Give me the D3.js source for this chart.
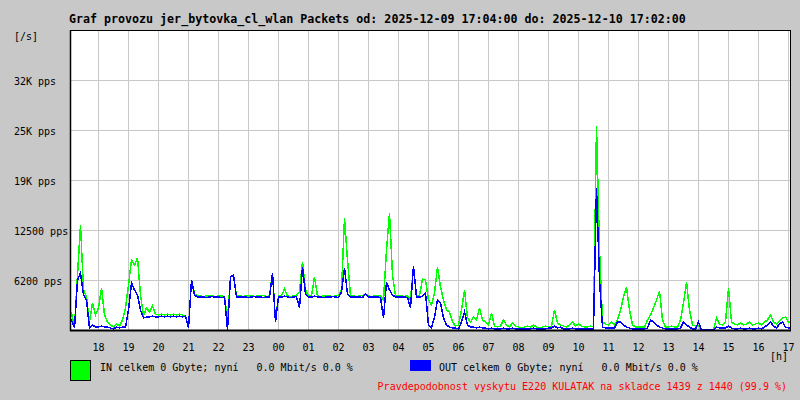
<!DOCTYPE html>
<html>
<head>
<meta charset="utf-8">
<title>Graf provozu jer_bytovka_cl_wlan</title>
<script src="https://d3js.org/d3.v7.min.js"></script>
<style>
  body { margin: 0; background: #c8c8c8; }
  svg { display: block; font-family: "DejaVu Sans Mono", "Liberation Mono", monospace; }
  text { font-size: 10px; fill: #000; white-space: pre; }
  .title { font-size: 11.65px; font-weight: bold; }
  .grid line { stroke: #c8c8c8; shape-rendering: crispEdges; }
  .grid .domain { display: none; }
  .series { fill: none; stroke-width: 1.5; shape-rendering: crispEdges; stroke-linejoin: miter; }
</style>
</head>
<body>
<script>
// one sample every 6 minutes, starting 2025-12-09 17:04 (packets per second)
var startTime = Date.UTC(2025, 11, 9, 17, 4);
var stepMinutes = 6;

var inPackets = [
  2125,375,6875,13125,5000,4125,1000,3375,1875,2750,
  5250,1875,1000,625,375,750,500,1250,2750,5625,
  8750,8125,9000,4375,1750,2750,2250,3000,2000,1875,
  2000,1875,2000,1875,2000,1875,2000,1875,1750,250,
  6250,4500,4300,4250,4200,4250,4300,4250,4200,4250,
  4250,4200,1250,6625,6875,4250,4300,4200,4250,4250,
  4300,4200,4250,4250,4300,4200,4250,7125,1250,4250,
  4300,5125,4250,4200,4250,4300,4750,8500,5000,4250,
  4300,6625,4250,4200,4250,4300,4250,4200,4250,4300,
  5000,14000,8750,4300,4250,4200,4250,4300,4500,4250,
  4200,4250,4300,4250,3750,10000,14625,6875,4300,4250,
  4250,4200,4300,3750,8000,4250,4300,6375,6250,3750,
  3125,4625,7875,5375,3750,2500,2250,1000,500,625,
  2500,5000,1500,1000,1625,1250,2750,1250,1000,625,
  2125,500,375,500,1250,625,375,875,500,375,
  250,375,500,375,625,375,250,375,500,375,
  500,2500,875,625,500,375,625,1000,500,750,
  500,375,375,500,375,25500,10000,1000,750,625,
  1000,625,1250,2500,4125,5375,2500,625,375,375,
  375,375,1250,1875,2750,3750,4875,1250,375,375,
  500,375,375,1250,3375,6000,2500,625,500,500,
  0,0,0,0,0,1500,750,625,1000,5250,
  1000,750,625,875,625,750,1000,625,750,875,
  625,1000,1250,1875,1000,750,1125,1500,1625,1000
];

var outPackets = [
  1250,250,6250,7125,4375,3750,250,625,375,375,
  500,375,375,250,125,375,250,375,375,2500,
  5875,5000,4375,2500,1500,1625,1625,1750,1625,1625,
  1750,1625,1750,1625,1750,1625,1750,1625,1750,250,
  6250,4375,4125,4100,4150,4050,4125,4175,4100,4125,
  4050,4125,0,6625,6875,4125,4100,4150,4125,4050,
  4125,4175,4100,4125,4050,4125,4150,7125,1000,4125,
  4100,4250,4125,4050,4125,4175,2750,7875,4500,4125,
  4100,4250,4125,4150,4050,4125,4100,4175,4125,4050,
  4750,7750,4500,4125,4100,4150,4125,4050,4500,4125,
  4100,4150,4125,4050,1500,6000,5000,4375,4125,4100,
  4150,4125,4050,2750,8000,4125,4100,4250,4625,625,
  250,1625,3750,3375,1500,625,375,250,250,125,
  1000,2250,625,375,375,250,375,250,250,125,
  250,125,125,125,250,125,125,250,125,125,
  125,125,125,125,250,125,125,125,125,250,
  250,500,250,375,125,125,125,250,125,125,
  125,125,125,125,125,17750,6250,375,250,250,
  250,250,1000,1000,625,375,250,125,125,125,
  125,125,250,1250,1000,625,375,250,125,125,
  125,125,125,250,1000,625,375,125,125,1000,
  0,0,0,0,0,375,250,250,250,500,
  250,125,125,250,125,125,250,125,125,250,
  125,375,625,1000,500,250,750,1000,375,250
];

var yTicks = [6250, 12500, 18750, 25000, 31250];
var yTickLabels = ["6200 pps", "12500 pps", "19K pps", "25K pps", "32K pps"];
var hourLabels = ["18","19","20","21","22","23","00","01","02","03","04","05",
                  "06","07","08","09","10","11","12","13","14","15","16","17"];

var titleText = "Graf provozu jer_bytovka_cl_wlan Packets od: 2025-12-09 17:04:00 do: 2025-12-10 17:02:00";
var inLegend = "IN celkem 0 Gbyte; nyní   0.0 Mbit/s 0.0 %";
var outLegend = "OUT celkem 0 Gbyte; nyní   0.0 Mbit/s 0.0 %";
var noteText = "Pravdepodobnost vyskytu E220 KULATAK na skladce 1439 z 1440 (99.9 %)";

var width = 800, height = 400;
var plotLeft = 70, plotRight = 790, plotTop = 30, plotBottom = 330;
var stepMs = stepMinutes * 60 * 1000;
var endTime = startTime + 24 * 3600 * 1000;

var svg = d3.select("body").append("svg")
    .attr("width", width)
    .attr("height", height);

svg.append("rect")
    .attr("width", width)
    .attr("height", height)
    .attr("fill", "#c8c8c8");

var x = d3.scaleUtc().domain([startTime, endTime]).range([plotLeft, plotRight]);
var y = d3.scaleLinear().domain([0, 37500]).range([plotBottom, plotTop]);

svg.append("rect")
    .attr("x", plotLeft).attr("y", plotTop)
    .attr("width", plotRight - plotLeft).attr("height", plotBottom - plotTop)
    .attr("fill", "#fff");

var hourTicks = d3.utcHour.range(new Date(startTime), new Date(endTime));

// grid
svg.append("g")
    .attr("class", "grid")
    .attr("transform", "translate(0," + plotBottom + ")")
    .call(d3.axisBottom(x).tickValues(hourTicks).tickSize(-(plotBottom - plotTop)).tickFormat(""));

svg.append("g")
    .attr("class", "grid")
    .attr("transform", "translate(" + plotLeft + ",0)")
    .call(d3.axisLeft(y).tickValues(yTicks).tickSize(-(plotRight - plotLeft)).tickFormat(""));

// sample i is centred in its 6-minute slot
function points(vals) {
    var pts = [[startTime, vals[0]]];
    vals.forEach(function(v, i) { pts.push([startTime + (i + 0.5) * stepMs, v]); });
    pts.push([endTime, vals[vals.length - 1]]);
    return pts;
}

var line = d3.line()
    .x(function(d) { return x(d[0]); })
    .y(function(d) { return y(d[1]); });

svg.append("path")
    .attr("class", "series")
    .attr("stroke", "#00ff00")
    .attr("d", line(points(inPackets)));

svg.append("path")
    .attr("class", "series")
    .attr("stroke", "#0000ff")
    .attr("d", line(points(outPackets)));

// frame
svg.append("rect")
    .attr("x", plotLeft + 0.5).attr("y", plotTop + 0.5)
    .attr("width", plotRight - plotLeft).attr("height", plotBottom - plotTop)
    .attr("fill", "none").attr("stroke", "#000");
svg.append("line")
    .attr("x1", plotLeft).attr("x2", plotRight + 1)
    .attr("y1", plotBottom + 0.5).attr("y2", plotBottom + 0.5)
    .attr("stroke", "#000").attr("stroke-width", 2);
svg.append("line")
    .attr("x1", plotLeft + 0.5).attr("x2", plotLeft + 0.5)
    .attr("y1", plotTop).attr("y2", plotBottom + 1)
    .attr("stroke", "#000").attr("stroke-width", 1.5);

// y labels
svg.append("g").selectAll("text")
    .data(yTicks)
    .enter().append("text")
    .attr("x", 14)
    .attr("y", function(d) { return y(d) + 4.5; })
    .text(function(d, i) { return yTickLabels[i]; });

svg.append("text").attr("x", 14).attr("y", 40).text("[/s]");

// x labels
svg.append("g").selectAll("text")
    .data(hourTicks)
    .enter().append("text")
    .attr("x", function(d) { return x(d) + 0.5; })
    .attr("y", 351)
    .attr("text-anchor", "middle")
    .text(function(d, i) { return hourLabels[i]; });

svg.append("text").attr("x", 788).attr("y", 360).attr("text-anchor", "end").text("[h]");

// title
svg.append("text")
    .attr("class", "title")
    .attr("x", 69).attr("y", 22.5)
    .text(titleText);

// legend
svg.append("rect")
    .attr("x", 70.5).attr("y", 360.5)
    .attr("width", 20).attr("height", 20)
    .attr("fill", "#00ff00").attr("stroke", "#000");
svg.append("text").attr("x", 100).attr("y", 370.5).text(inLegend);

svg.append("rect")
    .attr("x", 410).attr("y", 360)
    .attr("width", 21).attr("height", 11)
    .attr("fill", "#0000ff");
svg.append("text").attr("x", 439).attr("y", 370.5).text(outLegend);

svg.append("text")
    .attr("x", 787).attr("y", 390)
    .attr("text-anchor", "end")
    .style("fill", "#ff0000")
    .text(noteText);
</script>
</body>
</html>
